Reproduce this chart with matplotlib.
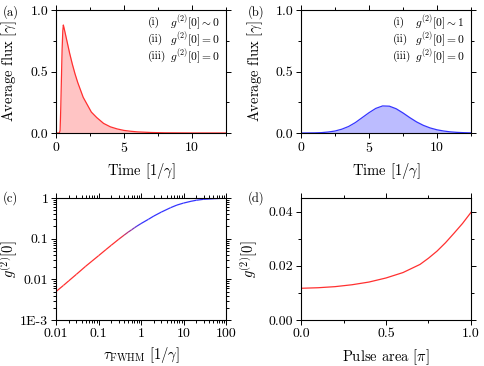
"""Four-panel figure: photon flux pulses and g2 dependence on pulse width / area."""

import matplotlib
matplotlib.use("Agg")
import matplotlib.pyplot as plt
import numpy as np
from matplotlib.collections import LineCollection
from matplotlib.ticker import AutoMinorLocator, LogLocator, NullFormatter

plt.rcParams["font.family"] = "serif"
plt.rcParams["font.serif"] = ["cmr10", "DejaVu Serif"]
plt.rcParams["mathtext.fontset"] = "cm"
plt.rcParams["axes.formatter.use_mathtext"] = True

# (a) short pulse: flux vs time
time_a = [0, 0.25, 0.3, 0.35, 0.4, 0.45, 0.5, 0.54, 0.6, 0.7, 0.8, 0.9, 1.0, 1.2, 1.4,
          1.6, 1.8, 2.0, 2.3, 2.6, 3.0, 3.5, 4.0, 4.5, 5.0, 5.5, 6.0, 7.0, 8.0, 10.0, 12.5]
flux_a = [0, 0, 0.02, 0.2, 0.45, 0.68, 0.83, 0.878, 0.85, 0.80, 0.75, 0.70, 0.65, 0.56, 0.48,
          0.41, 0.35, 0.29, 0.23, 0.17, 0.125, 0.078, 0.05, 0.033, 0.021, 0.014, 0.009, 0.004,
          0.0015, 0.0003, 0]

# (b) long pulse: flux vs time
time_b = [0, 1, 1.5, 2, 2.5, 3, 3.5, 4, 4.5, 5, 5.5, 6, 6.5, 7, 7.5, 8, 8.5, 9, 9.5,
          10, 10.5, 11, 11.5, 12, 12.5]
flux_b = [0, 0.001, 0.003, 0.008, 0.016, 0.031, 0.053, 0.085, 0.125, 0.165, 0.2, 0.22,
          0.218, 0.197, 0.163, 0.125, 0.09, 0.062, 0.041, 0.026, 0.016, 0.009, 0.005,
          0.0025, 0.001]

legend_a = [("(i)", r"$g^{(2)}[0] \sim 0$"), ("(ii)", r"$g^{(2)}[0] = 0$"), ("(iii)", r"$g^{(2)}[0] = 0$")]
legend_b = [("(i)", r"$g^{(2)}[0] \sim 1$"), ("(ii)", r"$g^{(2)}[0] = 0$"), ("(iii)", r"$g^{(2)}[0] = 0$")]

# (c) g2 vs pulse width
tau_fwhm = [0.01, 0.015, 0.02, 0.03, 0.05, 0.07, 0.1, 0.15, 0.2, 0.3, 0.4, 0.5, 0.6, 0.7,
            0.8, 1, 1.5, 2, 3, 5, 7, 10, 15, 20, 30, 50, 70, 100]
g2_tau = [0.005, 0.0071, 0.0092, 0.0132, 0.021, 0.028, 0.038, 0.054, 0.069, 0.097, 0.122,
          0.145, 0.165, 0.185, 0.203, 0.235, 0.30, 0.36, 0.45, 0.58, 0.67, 0.75, 0.83, 0.88,
          0.93, 0.96, 0.975, 0.985]
xticks_c = [0.01, 0.1, 1, 10, 100]
xticklabels_c = ["0.01", "0.1", "1", "10", "100"]
yticks_c = [1e-3, 0.01, 0.1, 1]
yticklabels_c = ["1E-3", "0.01", "0.1", "1"]

# (d) g2 vs pulse area
pulse_area = [0, 0.1, 0.2, 0.3, 0.4, 0.5, 0.6, 0.7, 0.75, 0.8, 0.85, 0.9, 0.95, 1.0]
g2_area = [0.0117, 0.0119, 0.0123, 0.0130, 0.0140, 0.0155, 0.0175, 0.0205, 0.0228, 0.0254,
           0.0285, 0.0320, 0.0356, 0.0397]

RED = "#ff3030"
BLUE = "#3535ff"
TICK_SIZE = 10
LABEL_SIZE = 10.5
LEGEND_SIZE = 8.3


def style_axes(ax, log=False):
    """Outward ticks on all four sides, like the original plotting program."""
    ax.tick_params(which="both", direction="out", top=True, right=True,
                   labeltop=False, labelright=False, labelsize=TICK_SIZE, width=0.7, pad=2)
    ax.tick_params(which="major", length=3.5)
    ax.tick_params(which="minor", length=2)
    if not log:
        ax.xaxis.set_minor_locator(AutoMinorLocator(2))
        ax.yaxis.set_minor_locator(AutoMinorLocator(2))
    for spine in ax.spines.values():
        spine.set_linewidth(0.8)


def set_labels(ax, xlabel, ylabel, ylab_x, xlab_y):
    # label anchors: right edge of the rotated y label, top edge of the x label
    ax.set_xlabel(xlabel, fontsize=LABEL_SIZE)
    ax.set_ylabel(ylabel, fontsize=LABEL_SIZE)
    ax.yaxis.set_label_coords(ylab_x, 0.5)
    ax.xaxis.set_label_coords(0.5, xlab_y)


def flux_panel(ax, t, flux, line, fill, legend, ylab_x):
    ax.fill_between(t, flux, color=fill, lw=0)
    ax.plot(t, flux, color=line, lw=0.9)
    ax.set_xlim(0, 12.5)
    ax.set_ylim(0, 1.0)
    ax.set_xticks([0, 5, 10])
    ax.set_yticks([0, 0.5, 1.0], ["0.0", "0.5", "1.0"])
    set_labels(ax, r"Time $[1/\gamma]$", r"Average flux $[\gamma]$", ylab_x, -0.225)
    for i, (num, txt) in enumerate(legend):
        y = 0.9 - i * 0.138
        ax.text(0.54, y, num, transform=ax.transAxes, fontsize=LEGEND_SIZE, va="center")
        ax.text(0.67, y, txt, transform=ax.transAxes, fontsize=LEGEND_SIZE, va="center")
    style_axes(ax)


def main():
    fig = plt.figure(figsize=(4.84, 3.66), dpi=100)
    w, h = 170 / 484, 123 / 366
    ax_a = fig.add_axes([56 / 484, 1 - 133 / 366, w, h])
    ax_b = fig.add_axes([301 / 484, 1 - 133 / 366, w, h])
    ax_c = fig.add_axes([56 / 484, 1 - 320 / 366, w, 122 / 366])
    ax_d = fig.add_axes([301 / 484, 1 - 320 / 366, w, 122 / 366])

    flux_panel(ax_a, time_a, flux_a, RED, "#ffc4c4", legend_a, -0.22)
    flux_panel(ax_b, time_b, flux_b, BLUE, "#bcbcff", legend_b, -0.21)

    # red -> blue colour blend along the curve, switching around tau ~ 0.3-1
    x = np.log10(tau_fwhm)
    mid = (x[:-1] + x[1:]) / 2
    frac = np.clip((mid - np.log10(0.3)) / (0 - np.log10(0.3)), 0, 1)
    c0, c1 = np.array(matplotlib.colors.to_rgb(RED)), np.array(matplotlib.colors.to_rgb(BLUE))
    colors = [tuple(c0 * (1 - f) + c1 * f) for f in frac]
    pts = np.column_stack([tau_fwhm, g2_tau])
    segs = np.stack([pts[:-1], pts[1:]], axis=1)
    ax_c.add_collection(LineCollection(segs, colors=colors, lw=0.9))
    ax_c.set_xscale("log")
    ax_c.set_yscale("log")
    ax_c.set_xlim(0.01, 100)
    ax_c.set_ylim(1e-3, 1)
    ax_c.set_xticks(xticks_c, xticklabels_c)
    ax_c.set_yticks(yticks_c, yticklabels_c)
    for axis in (ax_c.xaxis, ax_c.yaxis):
        axis.set_minor_locator(LogLocator(base=10, subs=np.arange(2, 10)))
        axis.set_minor_formatter(NullFormatter())
    set_labels(ax_c, r"$\tau_{\rm FWHM}$ $[1/\gamma]$", r"$g^{(2)}[0]$", -0.21, -0.205)
    style_axes(ax_c, log=True)

    ax_d.plot(pulse_area, g2_area, color=RED, lw=0.9)
    ax_d.set_xlim(0, 1.0)
    ax_d.set_ylim(0, 0.045)
    ax_d.set_xticks([0, 0.5, 1.0], ["0.0", "0.5", "1.0"])
    ax_d.set_yticks([0, 0.02, 0.04], ["0.00", "0.02", "0.04"])
    set_labels(ax_d, r"Pulse area $[\pi]$", r"$g^{(2)}[0]$", -0.24, -0.225)
    style_axes(ax_d)

    for label, px, py in [("(a)", 3, 12), ("(b)", 248, 12), ("(c)", 3, 198), ("(d)", 248, 198)]:
        fig.text(px / 484, 1 - py / 366, label, fontsize=9, va="center", ha="left")

    fig.savefig("out.png", dpi=100)
    plt.close(fig)


if __name__ == "__main__":
    main()
